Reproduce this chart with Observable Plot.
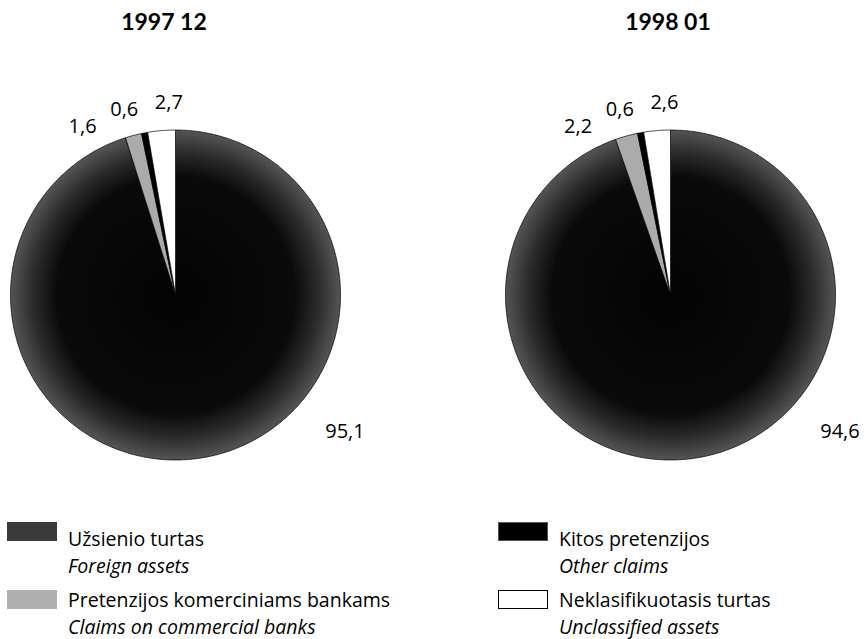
<!DOCTYPE html>
<html>
<head>
<meta charset="utf-8">
<script src="https://cdn.jsdelivr.net/npm/d3@7"></script>
<script src="https://cdn.jsdelivr.net/npm/@observablehq/plot@0.6"></script>
<style>
  html, body { margin: 0; padding: 0; background: #fff; }
  #page { position: relative; width: 867px; height: 639px; overflow: hidden; font-family: "Open Sans", Lato, sans-serif; color: #000; }
  .title { position: absolute; top: 10px; width: 200px; text-align: center; font-family: Lato, sans-serif; font-weight: bold; font-size: 23px; line-height: 23px; }
  #chart { position: absolute; left: 0; top: 45px; }
  .sw { position: absolute; width: 50px; height: 19px; box-sizing: border-box; }
  .lt { position: absolute; font-size: 19.5px; line-height: 27px; white-space: nowrap; }
  .lt i { display: block; }
</style>
</head>
<body>
<div id="page"></div>
<script>
// ---- data ----
const periods = ["1997 12", "1998 01"];
const categoriesLt = ["Užsienio turtas", "Pretenzijos komerciniams bankams", "Kitos pretenzijos", "Neklasifikuotasis turtas"];
const categoriesEn = ["Foreign assets", "Claims on commercial banks", "Other claims", "Unclassified assets"];
const values1997 = [95.1, 1.6, 0.6, 2.7];
const values1998 = [94.6, 2.2, 0.6, 2.6];
const seriesValues = [values1997, values1998];

// ---- styles ----
const sliceFills = ["url(#darkfill)", "#ababab", "#000000", "#ffffff"];
const swatchFills = ["#3a3a3a", "#b0b0b0", "#000000", "#ffffff"];

// ---- layout (units: pie radius) ----
const pieCenters = [0, 3];
const R = 165; // px per radius unit
const W = 867, H = 470, cxPx = 175, cyPx = 249.5;

const fmt = v => v.toFixed(1).replace(".", ",");

// build slice polygons from d3.pie angles
const pts = [];
const labels = [];
seriesValues.forEach((vals, p) => {
  const cx = pieCenters[p];
  const arcs = d3.pie().sort(null).startAngle(0).endAngle(2 * Math.PI)(vals);
  arcs.forEach((a, i) => {
    const key = p + "-" + i;
    pts.push({key, cat: i, x: cx, y: 0});
    const n = Math.max(2, Math.ceil((a.endAngle - a.startAngle) / 0.01));
    for (let k = 0; k <= n; k++) {
      const t = a.startAngle + (a.endAngle - a.startAngle) * k / n;
      pts.push({key, cat: i, x: cx + Math.sin(t), y: Math.cos(t)});
    }
    pts.push({key, cat: i, x: cx, y: 0});
  });
  // small slice labels: placed above the top, dodged counter-clockwise
  let prev = null;
  for (let i = arcs.length - 1; i >= 1; i--) {
    const mid = (arcs[i].startAngle + arcs[i].endAngle) / 2 - 2 * Math.PI;
    let ang = prev === null ? mid + 0.05 : Math.min(mid, prev - 0.235);
    prev = ang;
    labels.push({x: cx + 1.165 * Math.sin(ang), y: 1.165 * Math.cos(ang), text: fmt(vals[i])});
  }
  // large slice label, lower right outside
  labels.push({x: cx + 1.32 * Math.sin(2.25), y: 1.32 * Math.cos(2.25), text: fmt(vals[0])});
});

const marks = categoriesLt.map((c, i) =>
  Plot.line(pts.filter(d => d.cat === i), {
    x: "x", y: "y", z: "key",
    fill: sliceFills[i], stroke: "#000", strokeWidth: 0.7, strokeLinejoin: "round"
  })
);
marks.push(Plot.text(labels, {
  x: "x", y: "y", text: "text", fontSize: 20, fontFamily: "'Open Sans', Lato, sans-serif",
  fill: "#000", textAnchor: "middle"
}));

const chart = Plot.plot({
  width: W, height: H, margin: 0,
  style: {background: "transparent", overflow: "visible"},
  x: {domain: [-cxPx / R, (W - cxPx) / R], axis: null},
  y: {domain: [-(H - cyPx) / R, cyPx / R], axis: null},
  marks
});
const ns = "http://www.w3.org/2000/svg";
const defs = document.createElementNS(ns, "defs");
defs.innerHTML = `<radialGradient id="darkfill" cx="50%" cy="50%" r="50%">
  <stop offset="0" stop-color="#030303"/>
  <stop offset="0.72" stop-color="#0a0a0a"/>
  <stop offset="0.86" stop-color="#2a2a2a"/>
  <stop offset="1" stop-color="#555555"/>
</radialGradient>`;
chart.insertBefore(defs, chart.firstChild);
chart.id = "chart";

const page = document.getElementById("page");
// titles
const titleCenters = [164, 668];
periods.forEach((t, i) => {
  const d = document.createElement("div");
  d.className = "title";
  d.style.left = (titleCenters[i] - 100) + "px";
  d.textContent = t;
  page.appendChild(d);
});
page.appendChild(chart);

// legend
const legendPos = [
  {sx: 7, sy: 522, tx: 68, ty: 525},
  {sx: 7, sy: 590, tx: 68, ty: 586},
  {sx: 498, sy: 522, tx: 559, ty: 525},
  {sx: 498, sy: 590, tx: 559, ty: 586}
];
categoriesLt.forEach((c, i) => {
  const p = legendPos[i];
  const s = document.createElement("div");
  s.className = "sw";
  s.style.left = p.sx + "px"; s.style.top = p.sy + "px";
  s.style.background = swatchFills[i];
  s.style.border = i === 3 ? "1px solid #000" : (i === 2 ? "1px solid #555" : "none");
  page.appendChild(s);
  const t = document.createElement("div");
  t.className = "lt";
  t.style.left = p.tx + "px"; t.style.top = p.ty + "px";
  t.innerHTML = `<span>${c}</span><i>${categoriesEn[i]}</i>`;
  page.appendChild(t);
});
</script>
</body>
</html>
